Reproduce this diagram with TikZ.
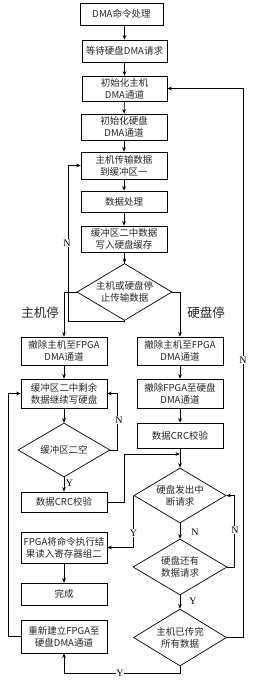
\documentclass[tikz,border=0pt]{standalone}
\usepackage{fontspec}
\newfontfamily\cjk{Noto Sans CJK SC}
\newfontfamily\lat{Liberation Serif}
\usetikzlibrary{shapes.geometric,arrows.meta}
\tikzset{
  box/.style={draw, line width=0.7pt, inner sep=0pt, align=center, font=\cjk\fontsize{9.5}{12}\selectfont, text=black!85},
  dia/.style={draw, diamond, line width=0.7pt, inner sep=0pt, align=center, font=\cjk\fontsize{9.5}{12}\selectfont, text=black!85},
  arr/.style={line width=0.6pt, -{Stealth[length=4.5pt,width=3.6pt]}},
  ln/.style={line width=0.6pt},
  yn/.style={font=\lat\fontsize{10}{10}\selectfont, fill=white, inner sep=0.5pt},
  big/.style={font=\cjk\fontsize{12.5}{14}\selectfont, text=black!85}
}
\begin{document}
\begin{tikzpicture}[x=1pt,y=-1pt]
\useasboundingbox (0,0) rectangle (253,689);
% main column
\node[box, minimum width=83, minimum height=22] (b1) at (121.5,14) {DMA命令处理};
\node[box, minimum width=85, minimum height=22] (b2) at (124.5,51) {等待硬盘DMA请求};
\node[box, minimum width=85, minimum height=25] (b3) at (124.5,88.5) {初始化主机\\DMA通道};
\node[box, minimum width=86, minimum height=26] (b4) at (124,127) {初始化硬盘\\DMA通道};
\node[box, minimum width=86, minimum height=27] (b5) at (124,165.5) {主机传输数据\\到缓冲区一};
\node[box, minimum width=86, minimum height=21] (b6) at (124,201.5) {数据处理};
\node[box, minimum width=86, minimum height=26] (b7) at (124,239) {缓冲区二中数据\\写入硬盘缓存};
\node[dia, minimum width=95, minimum height=57, aspect=1.67] (d1) at (124.5,292) {主机或硬盘停\\止传输数据};
\node[big] (lz) at (40,313) {主机停};
\node[big] (ly) at (206,313) {硬盘停};
% left column
\node[box, minimum width=86, minimum height=28] (L1) at (64,351) {撤除主机至FPGA\\DMA通道};
\node[box, minimum width=86, minimum height=29] (L2) at (64,393.5) {缓冲区二中剩余\\数据继续写硬盘};
\node[dia, minimum width=92, minimum height=54, aspect=1.7] (dL) at (64,450) {缓冲区二空};
\node[box, minimum width=86, minimum height=20] (LC) at (64,502) {数据CRC校验};
\node[box, minimum width=86, minimum height=31] (LF) at (64,547.5) {FPGA将命令执行结\\果读入寄存器组二};
\node[box, minimum width=86, minimum height=22] (Ld) at (64,594) {完成};
\node[box, minimum width=86, minimum height=33] (Lr) at (64,636.5) {重新建立FPGA至\\硬盘DMA通道};
% right column
\node[box, minimum width=86, minimum height=28] (R1) at (180,351) {撤除主机至FPGA\\DMA通道};
\node[box, minimum width=86, minimum height=29] (R2) at (180,393.5) {撤除FPGA至硬盘\\DMA通道};
\node[box, minimum width=86, minimum height=25] (R3) at (180,435.5) {数据CRC校验};
\node[dia, minimum width=92, minimum height=55, aspect=1.67] (dR1) at (180,495.5) {硬盘发出中\\断请求};
\node[dia, minimum width=94, minimum height=56, aspect=1.68] (dR2) at (180,567) {硬盘还有\\数据请求};
\node[dia, minimum width=93, minimum height=57, aspect=1.63] (dR3) at (180,637.5) {主机已传完\\所有数据};
% helper coordinates
\coordinate (nL) at (68,0);
\coordinate (xl) at (8,0);
\coordinate (xr) at (243,0);
\coordinate (jn) at (180,454);
% main flow
\draw[arr] (b1.south -| b2) -- (b2);
\draw[arr] (b2) -- (b3);
\draw[arr] (b3) -- (b4);
\draw[arr] (b4.south -| b5) -- (b5);
\draw[arr] (b5) -- (b6);
\draw[arr] (b6) -- (b7);
\draw[arr] (b7.south -| d1) -- (d1.north);
\draw[arr] (d1.south) -- (d1.south -| nL) |- (b5.west);
\node[yn] at (67,243) {N};
\draw[arr] (d1.west) -| (L1.north);
\draw[arr] (d1.east) -| (R1.north);
% left
\draw[arr] (L1) -- (L2);
\draw[arr] (L2) -- (dL.north);
\draw[arr] (dL.east) -- ++(7,0) |- (L2.east);
\node[yn] at (119,420) {N};
\draw[arr] (dL.south) -- (LC.north) node[pos=0.4, right=1pt, yn] {Y};
\draw[arr] (LC.east) -- ++(17,0) |- (jn);
\draw[arr] (LF) -- (Ld);
\draw[arr] (Lr.west) -- (Lr.west -| xl) |- (L2.west);
% right
\draw[arr] (R1) -- (R2);
\draw[arr] (R2) -- (R3);
\draw[arr] (R3) -- (dR1.north);
\draw[arr] (dR1.west) -- (dR1.west |- LF.east) -- (LF.east);
\node[yn] at (133.5,533) {Y};
\draw[arr] (dR1.south) -- (dR2.north);
\node[yn] at (195,532) {N};
\draw[arr] (dR2.east) -- ++(7,0) |- (dR1.east);
\node[yn] at (235,530) {N};
\draw[arr] (dR2.south) -- (dR3.north);
\node[yn] at (193,601) {Y};
\draw[arr] (dR3.east) -- (dR3.east -| xr) |- (b3.east);
\node[yn] at (243,360) {N};
\draw[arr] (dR3.south) -- ++(0,7) -| (Lr.south);
\node[yn] at (120,673) {Y};
\end{tikzpicture}
\end{document}
